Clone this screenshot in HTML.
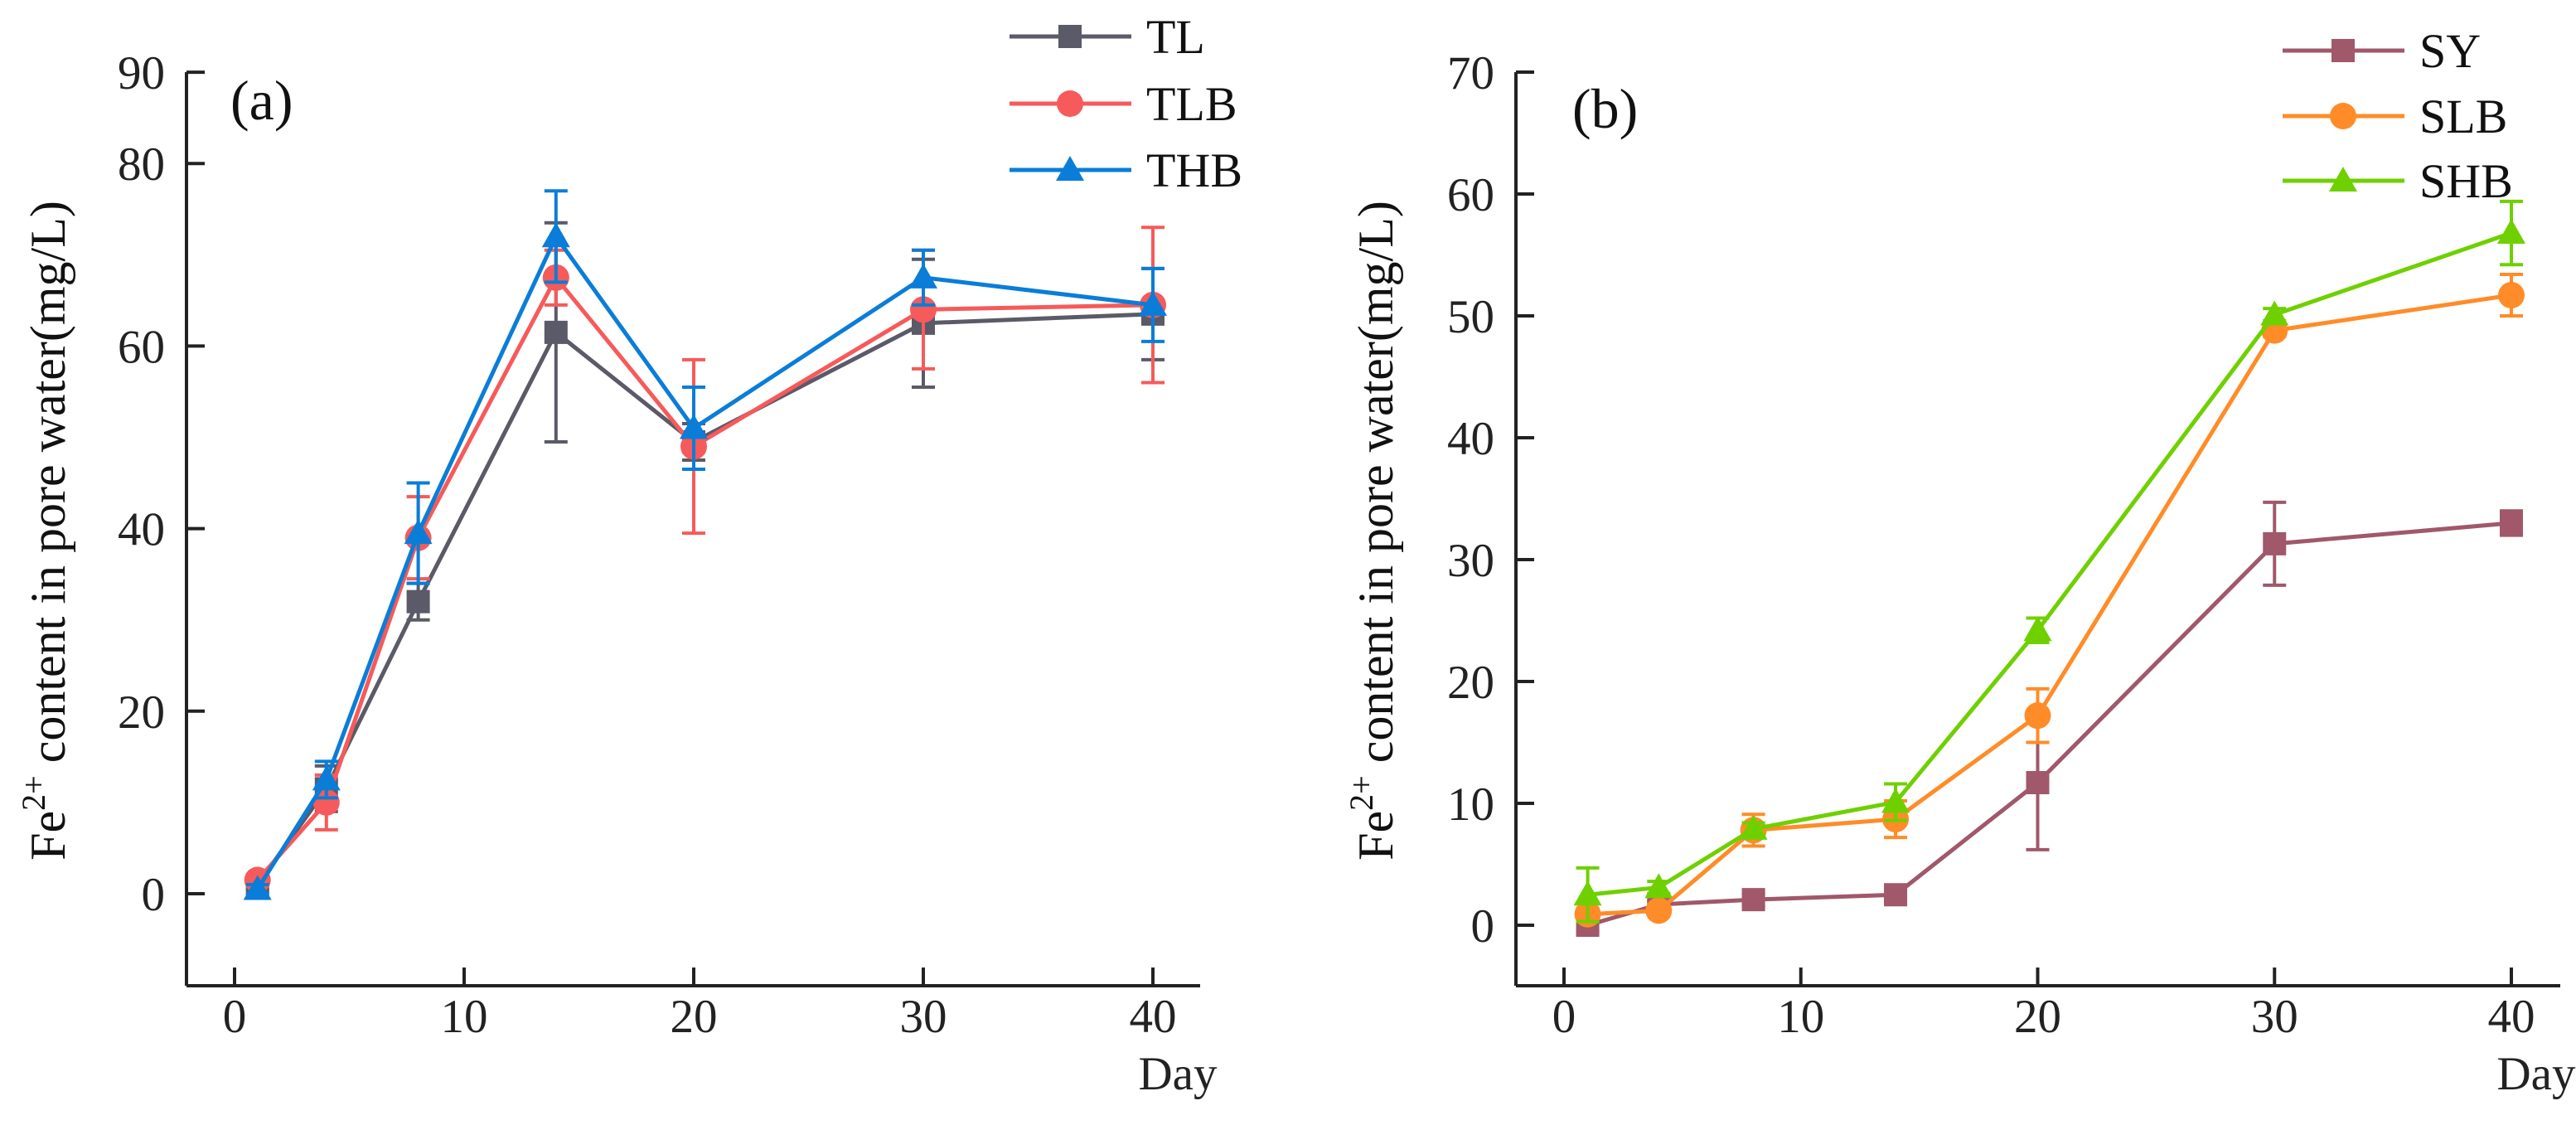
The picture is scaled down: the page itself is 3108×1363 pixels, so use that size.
<!DOCTYPE html>
<html><head><meta charset="utf-8">
<style>
html,body{margin:0;padding:0;background:#fff;}
svg{display:block;font-family:"Liberation Serif",serif;}
</style></head>
<body>
<svg id="chart" width="3108" height="1363" viewBox="0 0 3108 1363" xmlns="http://www.w3.org/2000/svg"></svg>
<script>
const days = [1,4,8,14,20,30,40];
const xTicks = [0,10,20,30,40];
const aTicks = [0,20,40,60,80,90];
const bTicks = [0,10,20,30,40,50,60,70];
const aNames = ["TL","TLB","THB"];
const aTL = [1,11.5,32,61.5,49.5,62.5,63.5];
const aTLerr = [0.5,2.5,2,12,2,7,5];
const aTLB = [1.5,10,39,67.5,49,64,64.5];
const aTLBerr = [0.5,3,4.5,3,9.5,6.5,8.5];
const aTHB = [0.5,12.5,39.5,72,51,67.5,64.5];
const aTHBerr = [0.5,2,5.5,5,4.5,3,4];
const bNames = ["SY","SLB","SHB"];
const bSY = [0,1.7,2.1,2.5,11.7,31.3,33];
const bSYerr = [0.5,0.3,0.5,0.5,5.5,3.4,1];
const bSLB = [0.9,1.2,7.8,8.7,17.2,48.8,51.7];
const bSLBerr = [0.5,0.3,1.3,1.5,2.2,0.5,1.7];
const bSHB = [2.5,3.1,7.9,10.1,24.2,50.1,56.8];
const bSHBerr = [2.2,0.5,0.5,1.5,1,0.5,2.6];

const svg = document.getElementById('chart');
const NS = 'http://www.w3.org/2000/svg';
function mk(tag, attrs, parent){const e=document.createElementNS(NS,tag);for(const k in attrs)e.setAttribute(k,attrs[k]);(parent||svg).appendChild(e);return e;}

function marker(g, shape, cx, cy, color){
  let m;
  if(shape==='sq') m=mk('rect',{x:cx-14,y:cy-14,width:28,height:28,fill:color},g);
  else if(shape==='ci') m=mk('circle',{cx:cx,cy:cy,r:16,fill:color},g);
  else m=mk('polygon',{points:`${cx},${cy-17} ${cx+17},${cy+13} ${cx-17},${cy+13}`,fill:color},g);
  return m;
}

function panel(cfg){
  const X = v => cfg.x0 + v*cfg.xs;
  const Y = v => cfg.y0 - v*cfg.ys;
  const g = mk('g',{});
  
  
  const ya = mk('line',{x1:cfg.ax,y1:cfg.ytop,x2:cfg.ax,y2:cfg.axy,stroke:'#222','stroke-width':4},g);
  
  
  const xa = mk('line',{x1:cfg.ax,y1:cfg.axy,x2:cfg.axr,y2:cfg.axy,stroke:'#222','stroke-width':4},g);
  
  
  cfg.yt.forEach(t=>{
    mk('line',{x1:cfg.ax,y1:Y(t),x2:cfg.ax+22,y2:Y(t),stroke:'#222','stroke-width':4},g);
    const tx = mk('text',{x:cfg.ax-26,y:Y(t)+20,'text-anchor':'end','font-size':57,fill:'#222'},g);
    tx.textContent=t;
    
    
  });
  xTicks.forEach(t=>{
    mk('line',{x1:X(t),y1:cfg.axy,x2:X(t),y2:cfg.axy-22,stroke:'#222','stroke-width':4},g);
    const tx = mk('text',{x:X(t),y:cfg.axy+56,'text-anchor':'middle','font-size':57,fill:'#222'},g);
    tx.textContent=t;
    
    
  });
  const day = mk('text',{x:X(40)+30,y:cfg.axy+125,'text-anchor':'middle','font-size':57,fill:'#222'},g);
  day.textContent='Day';
  
  
  const yt = mk('text',{transform:`translate(${cfg.ytx},${cfg.ytc}) rotate(-90)`,'text-anchor':'middle','font-size':60,fill:'#111'},g);
  yt.innerHTML='Fe<tspan dy="-24" font-size="40">2+</tspan><tspan dy="24"> content in pore water(mg/L)</tspan>';
  
  
  const pl = mk('text',{x:cfg.plx,y:cfg.ply,'font-size':68,fill:'#111'},g);
  pl.textContent=cfg.label;
  
  
  cfg.series.forEach((s,si)=>{
    const sg = mk('g',{},g);
    
    
    const pts = days.map((d,i)=>X(d)+','+Y(s.v[i])).join(' ');
    mk('polyline',{points:pts,fill:'none',stroke:s.c,'stroke-width':5,'stroke-linejoin':'round'},sg);
    days.forEach((d,i)=>{
      const x=X(d), hi=Y(s.v[i]+s.e[i]), lo=Y(s.v[i]-s.e[i]);
      const eb = mk('path',{d:`M${x},${hi}V${lo}M${x-14},${hi}H${x+14}M${x-14},${lo}H${x+14}`,stroke:s.c,'stroke-width':4,fill:'none'},sg);
      
      
      const m = marker(sg,s.shape,x,Y(s.v[i]),s.c);
      
      
    });
    const ly = cfg.legY[si];
    const lg = mk('g',{},g);
    
    
    mk('line',{x1:cfg.legX,y1:ly,x2:cfg.legX+147,y2:ly,stroke:s.c,'stroke-width':5},lg);
    marker(lg,s.shape,cfg.legX+73,ly,s.c);
    const lt = mk('text',{x:cfg.legX+165,y:ly+20,'font-size':58,fill:'#111'},lg);
    lt.textContent=s.name;
  });
}

panel({id:'panel-a',label:'(a)',x0:283,xs:27.7,y0:1078,ys:11.01,ax:225,axr:1448,axy:1189,ytop:87,
  yt:aTicks,ytx:78,ytc:640,plx:278,ply:144,legX:1218,legY:[44,125,205],
  series:[
    {name:aNames[0],v:aTL,e:aTLerr,c:'#5a5a68',shape:'sq'},
    {name:aNames[1],v:aTLB,e:aTLBerr,c:'#f65a5a',shape:'ci'},
    {name:aNames[2],v:aTHB,e:aTHBerr,c:'#0a7dd8',shape:'tr'}]});
panel({id:'panel-b',label:'(b)',x0:1887,xs:28.575,y0:1116,ys:14.7,ax:1829,axr:3089,axy:1189,ytop:87,
  yt:bTicks,ytx:1680,ytc:640,plx:1897,ply:154,legX:2754,legY:[61,140,218],
  series:[
    {name:bNames[0],v:bSY,e:bSYerr,c:'#a0586a',shape:'sq'},
    {name:bNames[1],v:bSLB,e:bSLBerr,c:'#ff8c28',shape:'ci'},
    {name:bNames[2],v:bSHB,e:bSHBerr,c:'#6fd000',shape:'tr'}]});
</script>
</body></html>
